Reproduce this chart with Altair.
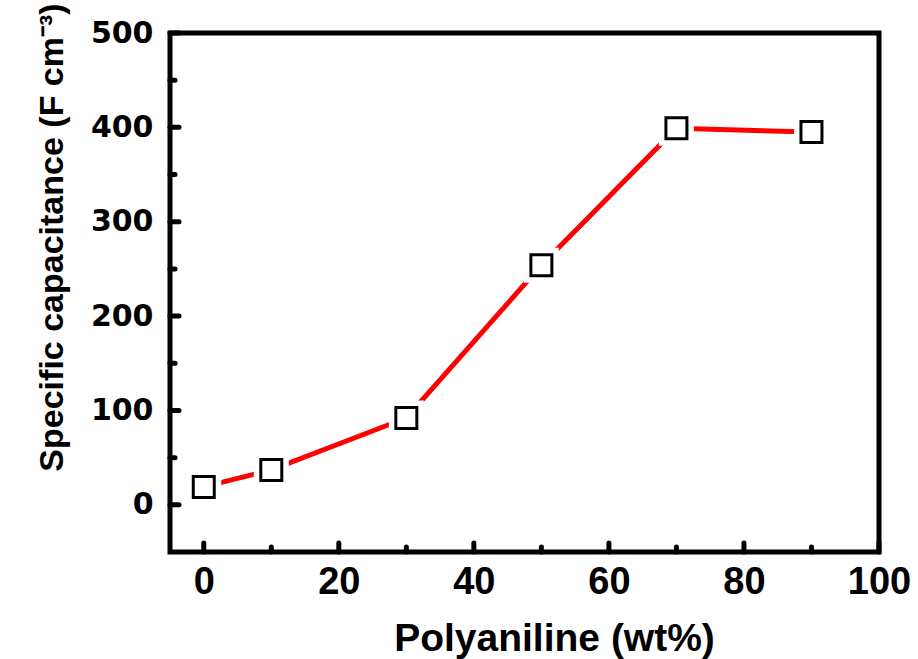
import altair as alt
import pandas as pd

# Data
pani_wt = [0, 10, 30, 50, 70, 90]
capacitance = [19, 37, 92, 254, 399, 395]

x_major = [0, 20, 40, 60, 80, 100]
x_minor = [10, 30, 50, 70, 90]
y_major = [0, 100, 200, 300, 400, 500]
y_minor = [50, 150, 250, 350, 450]

df = pd.DataFrame({"x": pani_wt, "y": capacitance})
xmaj = pd.DataFrame({"v": x_major})
xmin = pd.DataFrame({"v": x_minor})
ymaj = pd.DataFrame({"v": y_major})
ymin = pd.DataFrame({"v": y_minor})

W, H = 709, 519

xscale = alt.Scale(domain=[-5, 100], nice=False, zero=False)
yscale = alt.Scale(domain=[-50, 500], nice=False, zero=False)

xaxis = alt.Axis(
    values=x_major, title="Polyaniline (wt%)", grid=False, domain=False,
    ticks=False, tickSize=0, labelFlush=False,
    labelFont="Liberation Sans", labelFontWeight="bold", labelFontSize=38,
    labelColor="black", labelBaseline="alphabetic", labelPadding=41,
    titleFont="Liberation Sans", titleFontWeight="bold", titleFontSize=39,
    titleColor="black", titleX=384, titleY=98, titleBaseline="alphabetic",
    titleAlign="center",
)
yaxis = alt.Axis(
    values=y_major, title="Specific capacitance (F cm\u207b\u00b3)", grid=False,
    domain=False, ticks=False, tickSize=0, labelFlush=False,
    labelFont="DejaVu Sans", labelFontWeight="bold", labelFontSize=30,
    labelColor="black", labelBaseline="middle", labelPadding=17,
    titleFont="Liberation Sans", titleFontWeight="bold", titleFontSize=34,
    titleColor="black", titleX=-108, titleY=204, titleBaseline="alphabetic",
    titleAlign="center", titleAngle=270,
)

base = alt.Chart(df)

line = base.mark_line(color="#ff0000", strokeWidth=5, strokeCap="round").encode(
    x=alt.X("x:Q", scale=xscale, axis=xaxis),
    y=alt.Y("y:Q", scale=yscale, axis=yaxis),
)
halo = base.mark_point(shape="square", filled=True, color="white", opacity=1,
                       size=1225, strokeWidth=0).encode(x="x:Q", y="y:Q")
squares = base.mark_point(shape="square", filled=False, color="black", opacity=1,
                          size=441, strokeWidth=3).encode(x="x:Q", y="y:Q")

tick_style = dict(color="black", strokeWidth=5, strokeCap="round")
ymaj_t = alt.Chart(ymaj).mark_rule(**tick_style).encode(
    y="v:Q", x=alt.value(0), x2=alt.value(9))
ymin_t = alt.Chart(ymin).mark_rule(**tick_style).encode(
    y="v:Q", x=alt.value(0), x2=alt.value(5))
xmaj_t = alt.Chart(xmaj).mark_rule(**tick_style).encode(
    x="v:Q", y=alt.value(H), y2=alt.value(H - 9))
xmin_t = alt.Chart(xmin).mark_rule(**tick_style).encode(
    x="v:Q", y=alt.value(H), y2=alt.value(H - 5))

chart = alt.layer(line, halo, squares, ymaj_t, ymin_t, xmaj_t, xmin_t).properties(
    width=W, height=H,
    autosize=alt.AutoSizeParams(type="none"),
    padding={"left": 170, "top": 33, "right": 39, "bottom": 107},
    background="white",
).configure_view(stroke="black", strokeWidth=5)

chart.save("out.html", embed_options={"renderer": "svg", "actions": False})
